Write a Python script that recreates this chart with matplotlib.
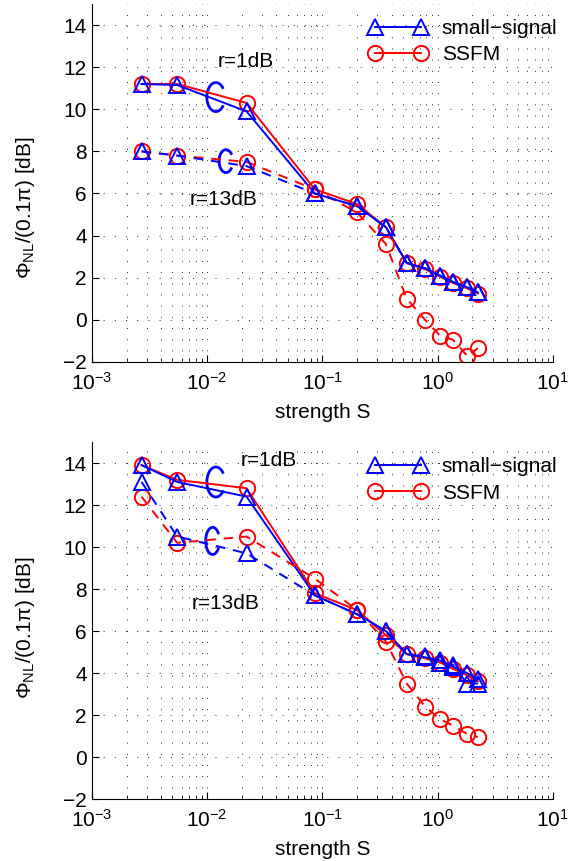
import matplotlib
matplotlib.use("Agg")
import matplotlib.pyplot as plt
from matplotlib.patches import Arc
from matplotlib.ticker import LogLocator, NullFormatter

plt.rcParams['font.family'] = ['Liberation Sans', 'DejaVu Sans']
plt.rcParams['mathtext.fontset'] = 'custom'
plt.rcParams['mathtext.rm'] = 'Liberation Sans'
plt.rcParams['mathtext.it'] = 'Liberation Sans:italic'
plt.rcParams['axes.unicode_minus'] = True

# strength S
S = [0.0027, 0.0055, 0.022, 0.086, 0.2, 0.356, 0.54, 0.78, 1.05, 1.36, 1.8, 2.24]

# top panel
top_ss_1 = [11.2, 11.15, 9.9, 6.0, 5.4, 4.4, 2.7, 2.45, 2.1, 1.8, 1.55, 1.3]
top_ssfm_1 = [11.2, 11.2, 10.3, 6.2, 5.5, 4.4, 2.7, 2.4, 2.05, 1.75, 1.5, 1.25]
top_ss_13 = [8.0, 7.8, 7.3, 6.0, 5.4, 4.4, 2.7, 2.45, 2.1, 1.8, 1.55, 1.3]
top_ssfm_13 = [8.0, 7.8, 7.5, 6.2, 5.1, 3.6, 1.0, 0.0, -0.75, -0.95, -1.7, -1.35]

# bottom panel
bot_ss_1 = [13.9, 13.1, 12.4, 7.7, 6.8, 6.0, 4.9, 4.75, 4.6, 4.3, 4.0, 3.7]
bot_ssfm_1 = [13.9, 13.2, 12.8, 7.8, 7.0, 5.8, 4.9, 4.7, 4.5, 4.2, 3.9, 3.6]
bot_ss_13 = [13.1, 10.5, 9.7, 7.7, 6.8, 6.0, 4.9, 4.8, 4.5, 4.4, 3.5, 3.5]
bot_ssfm_13 = [12.4, 10.2, 10.5, 8.5, 7.0, 5.5, 3.5, 2.4, 1.8, 1.5, 1.1, 0.95]

fig = plt.figure(figsize=(5.85, 8.61), dpi=100)
ax1 = fig.add_axes([0.157, 0.5796, 0.788, 0.4158])
ax2 = fig.add_axes([0.157, 0.072, 0.788, 0.4146])

dash = (0, (5, 4))
mk = dict(markersize=11, markeredgewidth=1.4, fillstyle='none', lw=1.4)
fs = 15


def draw(ax, ss1, fm1, ss13, fm13, arcs, texts, ylab_y):
    ax.plot(S, fm1, color='red', marker='o', ls='-', **mk)
    ax.plot(S, ss1, color='blue', marker='^', ls='-', **mk)
    ax.plot(S, fm13, color='red', marker='o', ls=dash, **mk)
    ax.plot(S, ss13, color='blue', marker='^', ls=dash, **mk)

    ax.set_xscale('log')
    ax.set_xlim(1e-3, 10)
    ax.set_ylim(-2, 15)
    ax.set_yticks(range(-2, 15, 2))
    ax.xaxis.set_minor_locator(LogLocator(base=10, subs=range(2, 10)))
    ax.xaxis.set_minor_formatter(NullFormatter())
    ax.grid(True, which='major', color='0.15', ls=(0, (1, 10.5)), lw=0.7)
    ax.grid(True, which='minor', axis='x', color='0.15', ls=(0, (1, 10.5)), lw=0.7)
    ax.tick_params(which='both', direction='in', labelsize=fs, top=False, right=False)
    ax.tick_params(which='major', length=5)
    ax.tick_params(axis='x', which='minor', length=3)
    ax.tick_params(axis='x', pad=7)
    for sp in ['top', 'right']:
        ax.spines[sp].set_visible(False)

    ax.set_xlabel('strength S', fontsize=fs)
    ax.set_ylabel(r'$\mathrm{\Phi_{NL}/(0.1\pi)}$ [dB]', fontsize=fs)
    ax.xaxis.set_label_coords(0.5, -0.115)
    ax.yaxis.set_label_coords(-0.118, ylab_y)

    for (cx, cy, w, h) in arcs:
        ax.add_patch(Arc((cx, cy), w, h, theta1=55, theta2=305, color='blue',
                         lw=2.0, transform=ax.transAxes, clip_on=False))
    for (tx, ty, s) in texts:
        ax.text(tx, ty, s, transform=ax.transAxes, fontsize=fs, ha='center', va='center')

    ss_h, = ax.plot([], [], color='blue', marker='^', ls='-', **mk)
    fm_h, = ax.plot([], [], color='red', marker='o', ls='-', **mk)
    ax.legend([ss_h, fm_h], ['small\u2212signal', 'SSFM'], loc='upper left',
              bbox_to_anchor=(0.56, 1.01), frameon=False, numpoints=2,
              handlelength=2.8, fontsize=fs, labelspacing=0.35, handletextpad=0.7)


draw(ax1, top_ss_1, top_ssfm_1, top_ss_13, top_ssfm_13,
     [(0.269, 0.740, 0.039, 0.081), (0.291, 0.561, 0.030, 0.064)],
     [(0.334, 0.838, 'r=1dB'), (0.286, 0.455, 'r=13dB')], 0.43)
draw(ax2, bot_ss_1, bot_ssfm_1, bot_ss_13, bot_ssfm_13,
     [(0.269, 0.888, 0.039, 0.084), (0.262, 0.723, 0.030, 0.076)],
     [(0.384, 0.947, 'r=1dB'), (0.291, 0.549, 'r=13dB')], 0.48)

fig.savefig('out.png', dpi=100)
